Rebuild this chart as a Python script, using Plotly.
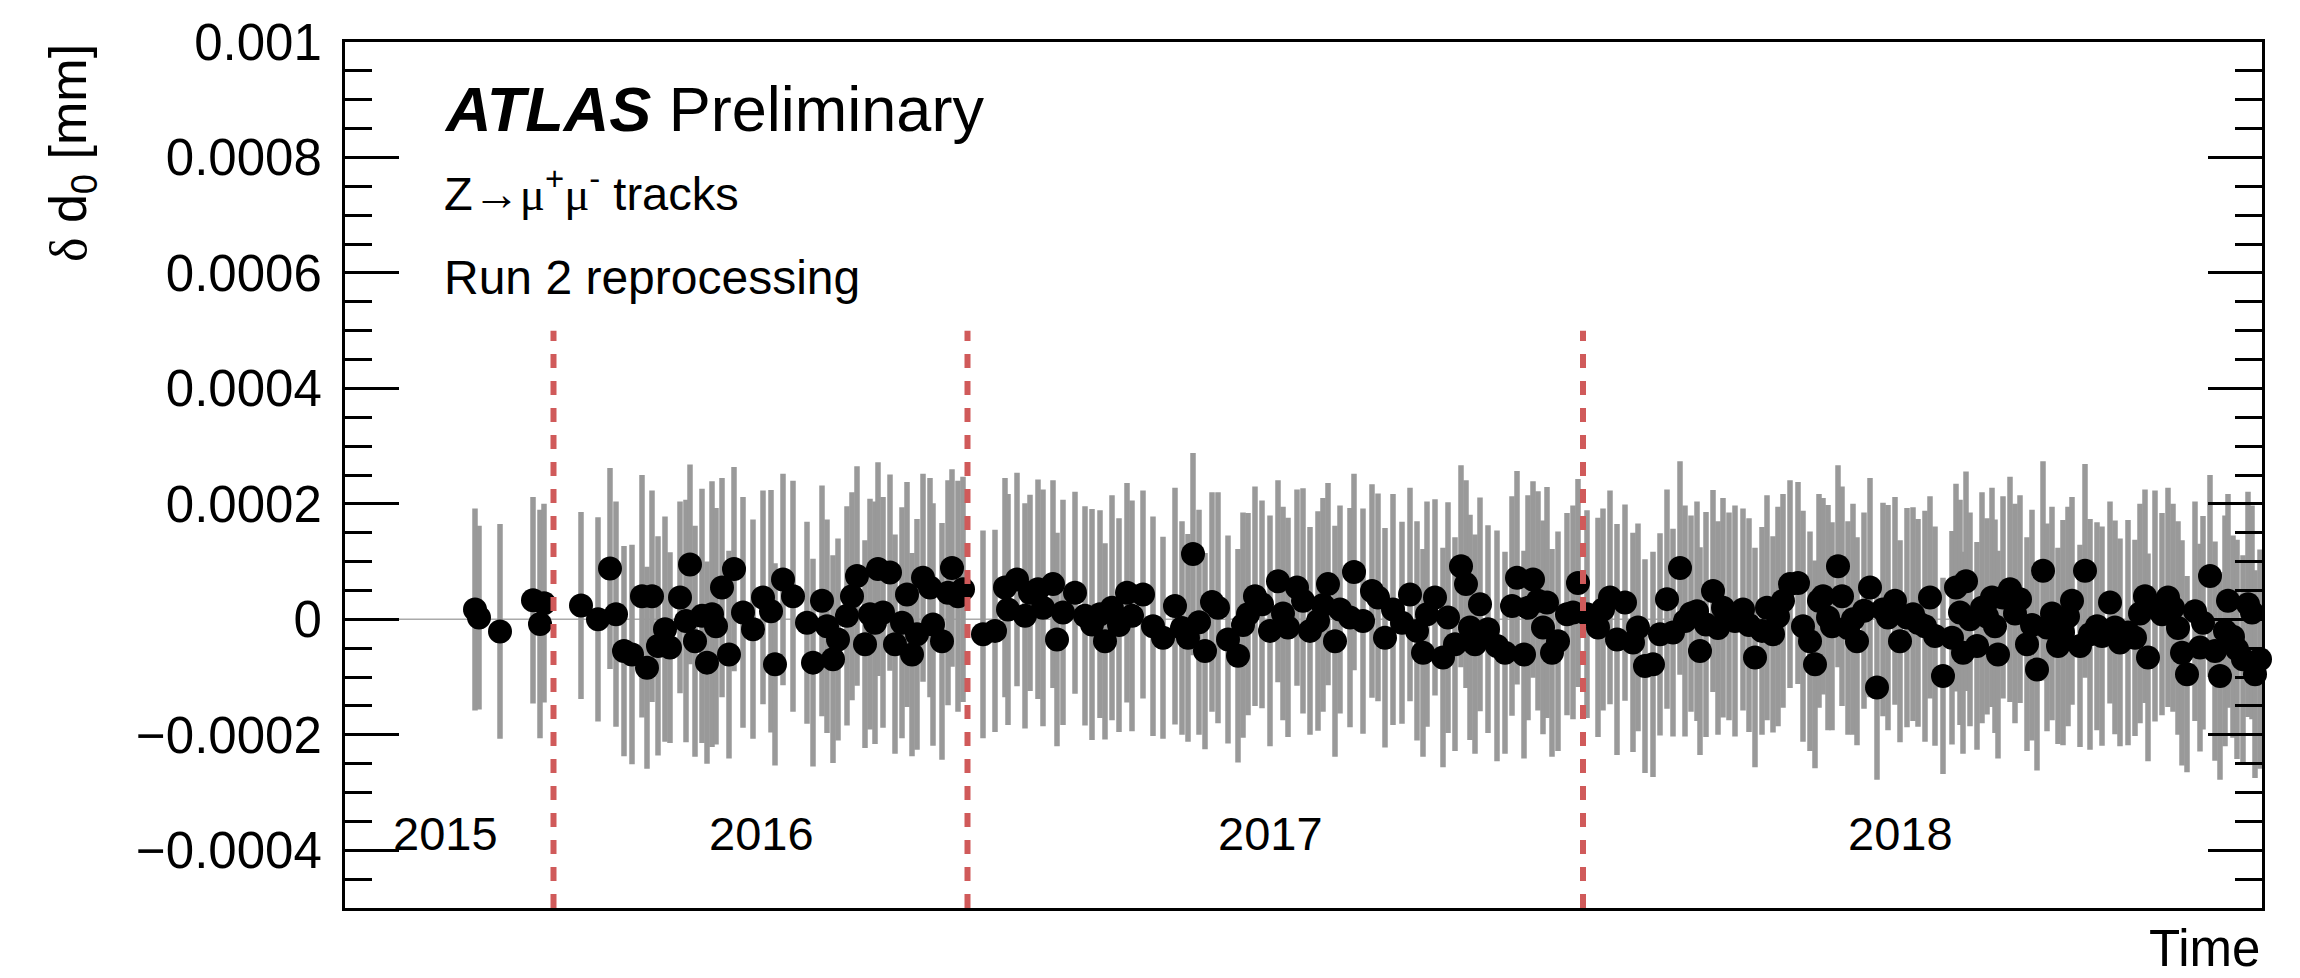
import plotly.graph_objects as go

# ---------------- data (time in arbitrary run-ordered units, delta d0 in mm) ----------------
t_2015 = [130, 134, 155, 188, 195, 199]
d0_2015 = [1.7e-5, 0.3e-5, -2.1e-5, 3.3e-5, -0.8e-5, 2.8e-5]
err_2015 = [1.75e-4, 1.59e-4, 1.86e-4, 1.79e-4, 1.98e-4, 1.72e-4]

t_2016 = [236, 253, 265, 271, 279, 287, 297, 302, 307, 313,
          320, 325, 335, 341, 345, 350, 357, 362, 367, 371,
          377, 384, 389, 398, 408, 418, 426, 430, 438, 448,
          462, 468, 477, 482, 488, 493, 502, 507, 512, 520,
          525, 530, 533, 538, 545, 550, 557, 562, 567, 572,
          578, 585, 588, 597, 603, 607, 613, 618]
d0_2016 = [2.4e-5, 0.0, 8.8e-5, 0.9e-5, -5.5e-5, -6.1e-5, 4.0e-5, -8.4e-5, 4.0e-5, -4.6e-5,
           -1.7e-5, -4.9e-5, 3.8e-5, -0.3e-5, 9.5e-5, -3.8e-5, 0.6e-5, -7.5e-5, 0.9e-5, -1.2e-5,
           5.5e-5, -6.1e-5, 8.7e-5, 1.2e-5, -1.7e-5, 3.8e-5, 1.4e-5, -7.8e-5, 6.9e-5, 4.0e-5,
           -0.6e-5, -7.5e-5, 3.2e-5, -1.2e-5, -6.9e-5, -3.5e-5, 0.6e-5, 4.0e-5, 7.5e-5, -4.3e-5,
           0.9e-5, -0.6e-5, 8.7e-5, 1.2e-5, 8.1e-5, -4.3e-5, -0.6e-5, 4.3e-5, -6.1e-5, -2.6e-5,
           7.2e-5, 5.5e-5, -0.9e-5, -3.8e-5, 4.6e-5, 8.9e-5, 4.0e-5, 5.2e-5]
err_2016 = [1.62e-4, 1.77e-4, 1.74e-4, 1.95e-4, 1.82e-4, 1.9e-4, 2.1e-4, 1.75e-4, 1.83e-4, 1.9e-4,
            1.95e-4, 1.65e-4, 1.66e-4, 2.1e-4, 1.73e-4, 2.0e-4, 2.2e-4, 1.75e-4, 2.3e-4, 2.05e-4,
            1.9e-4, 1.8e-4, 1.77e-4, 2.0e-4, 1.9e-4, 1.85e-4, 2.1e-4, 1.75e-4, 1.83e-4, 2.0e-4,
            1.75e-4, 1.8e-4, 2.0e-4, 1.85e-4, 1.8e-4, 1.75e-4, 1.9e-4, 1.8e-4, 1.9e-4, 1.8e-4,
            2.0e-4, 2.1e-4, 1.85e-4, 2.0e-4, 1.7e-4, 1.9e-4, 2.0e-4, 1.95e-4, 1.76e-4, 2.0e-4,
            1.8e-4, 1.9e-4, 2.1e-4, 2.05e-4, 1.95e-4, 1.71e-4, 2.0e-4, 1.95e-4]

t_2017 = [638, 650, 660, 663, 672, 680, 685, 693, 698, 708,
          712, 718, 730, 740, 747, 755, 760, 767, 774, 782,
          787, 798, 808, 818, 830, 837, 843, 848, 854, 860,
          867, 873, 883, 893, 898, 903, 910, 917, 925, 933,
          938, 943, 952, 958, 965, 973, 978, 983, 990, 995,
          1005, 1009, 1018, 1027, 1033, 1040, 1048, 1057, 1065, 1072,
          1078, 1082, 1090, 1098, 1103, 1110, 1116, 1121, 1125, 1130,
          1135, 1143, 1152, 1160, 1167, 1172, 1179, 1183, 1188, 1193,
          1198, 1202, 1207, 1213, 1222, 1228, 1233]
d0_2017 = [-2.6e-5, -2.0e-5, 5.5e-5, 1.7e-5, 6.9e-5, 0.6e-5, 4.6e-5, 5.2e-5, 2.0e-5, 6.1e-5,
           -3.5e-5, 1.2e-5, 4.6e-5, 0.6e-5, -0.9e-5, 0.9e-5, -3.8e-5, 2.0e-5, -1.0e-5, 4.6e-5,
           0.6e-5, 4.3e-5, -1.2e-5, -3.2e-5, 2.3e-5, -1.5e-5, -3.2e-5, 11.3e-5, -0.5e-5, -5.5e-5,
           3.0e-5, 2.0e-5, -3.5e-5, -6.3e-5, -1.0e-5, 0.9e-5, 4.0e-5, 2.6e-5, -2.0e-5, 6.6e-5,
           1.0e-5, -1.4e-5, 5.5e-5, 3.2e-5, -2.0e-5, -0.3e-5, 2.5e-5, 6.1e-5, -3.8e-5, 1.7e-5,
           0.3e-5, 8.2e-5, -0.3e-5, 4.9e-5, 3.8e-5, -3.2e-5, 1.7e-5, -0.6e-5, 4.3e-5, -2.0e-5,
           -5.8e-5, 0.9e-5, 3.8e-5, -6.6e-5, 0.3e-5, -4.3e-5, 9.2e-5, 6.1e-5, -1.4e-5, -4.3e-5,
           2.6e-5, -1.7e-5, -4.6e-5, -5.8e-5, 2.3e-5, 7.2e-5, -6.1e-5, 2.0e-5, 6.9e-5, 3.2e-5,
           -1.4e-5, 2.9e-5, -5.8e-5, -3.8e-5, 0.9e-5, 1.2e-5, 6.3e-5]
err_2017 = [1.8e-4, 1.75e-4, 1.9e-4, 2.0e-4, 1.85e-4, 1.95e-4, 1.7e-4, 1.9e-4, 2.05e-4, 1.8e-4,
            1.85e-4, 1.95e-4, 1.75e-4, 1.9e-4, 2.0e-4, 1.8e-4, 1.7e-4, 1.95e-4, 1.85e-4, 1.9e-4,
            2.0e-4, 1.8e-4, 1.9e-4, 1.75e-4, 2.05e-4, 1.85e-4, 1.8e-4, 1.75e-4, 1.95e-4, 1.7e-4,
            1.9e-4, 2.0e-4, 1.8e-4, 1.85e-4, 1.95e-4, 1.75e-4, 1.9e-4, 1.8e-4, 2.0e-4, 1.75e-4,
            1.85e-4, 1.9e-4, 1.7e-4, 1.95e-4, 1.8e-4, 1.9e-4, 1.85e-4, 1.75e-4, 2.0e-4, 1.8e-4,
            1.9e-4, 1.7e-4, 1.95e-4, 1.85e-4, 1.8e-4, 1.9e-4, 2.0e-4, 1.75e-4, 1.85e-4, 1.9e-4,
            1.8e-4, 1.95e-4, 1.7e-4, 1.9e-4, 2.0e-4, 1.85e-4, 1.75e-4, 1.8e-4, 1.95e-4, 1.9e-4,
            1.85e-4, 1.8e-4, 2.0e-4, 1.75e-4, 1.9e-4, 1.85e-4, 1.8e-4, 1.95e-4, 1.7e-4, 1.9e-4,
            1.85e-4, 2.0e-4, 1.8e-4, 1.9e-4, 1.75e-4, 1.85e-4, 1.8e-4]

t_2018 = [1242, 1253, 1258, 1265, 1272, 1280, 1288, 1293, 1300, 1308,
          1315, 1322, 1328, 1335, 1340, 1346, 1352, 1355, 1361, 1368,
          1373, 1378, 1384, 1390, 1398, 1404, 1410, 1417, 1422, 1428,
          1433, 1438, 1445, 1453, 1458, 1465, 1470, 1474, 1478, 1483,
          1487, 1493, 1497, 1503, 1508, 1512, 1519, 1525, 1532, 1538,
          1543, 1550, 1555, 1562, 1568, 1573, 1580, 1585, 1590, 1598,
          1607, 1611, 1615, 1618, 1621, 1625, 1632, 1637, 1642, 1647,
          1650, 1653, 1658, 1665, 1670, 1675, 1682, 1687, 1692, 1698,
          1702, 1707, 1713, 1718, 1723, 1727, 1735, 1740, 1745, 1752,
          1757, 1765, 1770, 1775, 1783, 1790, 1795, 1800, 1803, 1810,
          1817, 1823, 1828, 1833, 1837, 1842, 1850, 1855, 1858, 1865,
          1870, 1875, 1880, 1883, 1888, 1892, 1898, 1903, 1907, 1910,
          1915]
d0_2018 = [0.9e-5, -1.4e-5, 1.7e-5, 3.8e-5, -3.5e-5, 2.9e-5, -4.0e-5, -1.4e-5, -8.1e-5, -7.8e-5,
           -2.6e-5, 3.5e-5, -2.3e-5, 8.9e-5, -0.3e-5, 1.0e-5, 1.4e-5, -5.5e-5, -0.9e-5, 4.9e-5,
           -1.5e-5, 2.0e-5, 0.5e-5, -0.3e-5, 1.7e-5, -1.0e-5, -6.6e-5, -2.0e-5, 2.0e-5, -2.6e-5,
           0.5e-5, 3.2e-5, 6.1e-5, 6.3e-5, -1.2e-5, -3.8e-5, -7.8e-5, 3.2e-5, 4.0e-5, 0.3e-5,
           -1.2e-5, 9.2e-5, 4.0e-5, -1.5e-5, 0.0, -3.8e-5, 1.5e-5, 5.5e-5, -11.8e-5, 1.7e-5,
           0.3e-5, 3.2e-5, -3.8e-5, 0.3e-5, 0.9e-5, -0.6e-5, -1.2e-5, 3.8e-5, -2.9e-5, -9.8e-5,
           -3.2e-5, 5.5e-5, 1.2e-5, -5.8e-5, 6.6e-5, 0.0, -4.6e-5, 2.0e-5, 0.5e-5, 3.8e-5,
           -1.2e-5, -6.1e-5, 3.8e-5, 5.2e-5, 1.0e-5, 3.5e-5, -4.3e-5, -1.0e-5, -8.7e-5, 8.4e-5,
           -1.4e-5, 1.0e-5, -4.6e-5, -2.3e-5, 0.5e-5, 3.2e-5, -4.6e-5, 8.4e-5, -2.6e-5, -1.2e-5,
           -2.9e-5, 2.9e-5, -1.4e-5, -4.0e-5, -2.3e-5, -3.2e-5, 1.0e-5, 4.0e-5, -6.6e-5, 2.3e-5,
           0.9e-5, 3.8e-5, 2.0e-5, -1.5e-5, -5.8e-5, -9.5e-5, 1.4e-5, -4.9e-5, -0.6e-5, 7.5e-5,
           -5.5e-5, -9.8e-5, -2.0e-5, 3.2e-5, -3.0e-5, -5.2e-5, -6.9e-5, 2.6e-5, 1.2e-5, -9.5e-5,
           -6.9e-5]
err_2018 = [1.8e-4, 1.9e-4, 1.75e-4, 1.85e-4, 2.0e-4, 1.7e-4, 1.9e-4, 1.8e-4, 1.85e-4, 1.95e-4,
            1.75e-4, 1.9e-4, 1.8e-4, 1.85e-4, 2.0e-4, 1.7e-4, 1.9e-4, 1.8e-4, 1.95e-4, 1.75e-4,
            1.85e-4, 1.9e-4, 1.8e-4, 2.0e-4, 1.75e-4, 1.85e-4, 1.9e-4, 1.8e-4, 1.95e-4, 1.7e-4,
            1.9e-4, 1.85e-4, 1.8e-4, 1.75e-4, 2.0e-4, 1.9e-4, 1.8e-4, 1.85e-4, 1.7e-4, 1.95e-4,
            1.8e-4, 1.75e-4, 1.9e-4, 1.85e-4, 2.0e-4, 1.8e-4, 1.7e-4, 1.9e-4, 1.6e-4, 1.85e-4,
            1.95e-4, 1.8e-4, 1.75e-4, 1.9e-4, 1.85e-4, 1.8e-4, 2.0e-4, 1.75e-4, 1.9e-4, 1.7e-4,
            1.85e-4, 1.8e-4, 1.95e-4, 1.75e-4, 1.9e-4, 1.85e-4, 1.8e-4, 2.0e-4, 1.7e-4, 1.9e-4,
            1.85e-4, 1.8e-4, 1.75e-4, 1.95e-4, 1.9e-4, 1.8e-4, 1.85e-4, 2.0e-4, 1.75e-4, 1.9e-4,
            1.8e-4, 1.85e-4, 1.7e-4, 1.95e-4, 1.9e-4, 1.8e-4, 1.75e-4, 1.85e-4, 2.0e-4, 1.8e-4,
            1.9e-4, 1.75e-4, 1.85e-4, 1.8e-4, 1.95e-4, 1.7e-4, 1.9e-4, 1.85e-4, 1.8e-4, 2.0e-4,
            1.75e-4, 1.9e-4, 1.8e-4, 1.85e-4, 1.95e-4, 1.7e-4, 1.9e-4, 1.8e-4, 1.85e-4, 1.75e-4,
            1.9e-4, 1.8e-4, 2.0e-4, 1.85e-4, 1.75e-4, 1.9e-4, 1.8e-4, 1.95e-4, 1.85e-4, 1.8e-4,
            1.9e-4]

years = ["2015", "2016", "2017", "2018"]
year_label_t = [100, 416, 925, 1555]
year_edges = [208.5, 622.5, 1238]

y_tickvals = [-0.0004, -0.0002, 0.0, 0.0002, 0.0004, 0.0006, 0.0008, 0.001]
y_ticktext = ["\u22120.0004", "\u22120.0002", "0", "0.0002", "0.0004", "0.0006", "0.0008", "0.001"]

# ---------------- figure ----------------
FONT = "Liberation Sans, Arial, Helvetica, sans-serif"

all_t = t_2015 + t_2016 + t_2017 + t_2018
all_d0 = d0_2015 + d0_2016 + d0_2017 + d0_2018
all_err = err_2015 + err_2016 + err_2017 + err_2018

fig = go.Figure()
fig.add_trace(go.Scatter(
    x=all_t, y=all_d0, mode="markers",
    marker=dict(color="black", size=24, line=dict(width=0)),
    error_y=dict(type="data", array=all_err, visible=True,
                 color="#999999", thickness=5.5, width=0),
    cliponaxis=False, showlegend=False, hoverinfo="skip",
))

shapes = [dict(type="line", xref="x domain", yref="y", x0=0, x1=1, y0=0, y1=0,
               line=dict(color="#aaaaaa", width=1.5), layer="below")]
for edge in year_edges:
    shapes.append(dict(type="line", xref="x", yref="y", x0=edge, x1=edge,
                       y0=-0.0005, y1=0.0005,
                       line=dict(color="#d05a5a", width=6, dash="14px,13px"),
                       layer="above"))

annotations = [
    dict(text="<b><i>ATLAS</i></b> Preliminary", xref="paper", yref="paper",
         x=0.0506, y=0.9226, xanchor="left", yanchor="middle", showarrow=False,
         font=dict(family=FONT, size=63, color="black")),
    dict(text="Z\u2192<span style=\"font-family:'Liberation Serif'\">\u03bc</span><sup>+</sup>"
              "<span style=\"font-family:'Liberation Serif'\">\u03bc</span><sup>-</sup> tracks",
         xref="paper", yref="paper", x=0.0506, y=0.829, xanchor="left", yanchor="middle",
         showarrow=False, font=dict(family=FONT, size=47, color="black")),
    dict(text="Run 2 reprocessing", xref="paper", yref="paper",
         x=0.0506, y=0.7275, xanchor="left", yanchor="middle", showarrow=False,
         font=dict(family=FONT, size=48, color="black")),
    dict(text="Time", xref="paper", yref="paper", x=1.0, y=-0.047,
         xanchor="right", yanchor="middle", showarrow=False,
         font=dict(family=FONT, size=51, color="black")),
    dict(text="<span style=\"font-family:'Liberation Serif'\">\u03b4</span> d<sub>0</sub> [mm]",
         xref="paper", yref="paper", x=-0.1424, y=1.0, xanchor="center", yanchor="top",
         textangle=-90, showarrow=False, font=dict(family=FONT, size=52, color="black")),
]
for label, tpos in zip(years, year_label_t):
    annotations.append(dict(text=label, xref="x", yref="paper", x=tpos, y=0.0855,
                            xanchor="center", yanchor="middle", showarrow=False,
                            font=dict(family=FONT, size=47, color="black")))

fig.update_layout(
    width=2300, height=978,
    margin=dict(l=345, r=38, t=42, b=70, pad=0),
    paper_bgcolor="white", plot_bgcolor="white",
    shapes=shapes, annotations=annotations,
    xaxis=dict(range=[0, 1917], showticklabels=False, ticks="", showgrid=False,
               zeroline=False, showline=True, linewidth=3, linecolor="black", mirror=True),
    yaxis=dict(range=[-0.0005, 0.001], tickmode="array", tickvals=y_tickvals,
               ticktext=y_ticktext, ticks="inside", ticklen=54, tickwidth=3,
               tickcolor="black", showgrid=False, zeroline=False, showline=True,
               linewidth=3, linecolor="black", mirror="ticks",
               tickfont=dict(family=FONT, size=51, color="black"),
               ticklabelstandoff=10,
               minor=dict(ticks="inside", ticklen=27, tickwidth=3, tickcolor="black",
                          dtick=0.00005, tick0=0, showgrid=False)),
)

fig.write_html("out.html")
